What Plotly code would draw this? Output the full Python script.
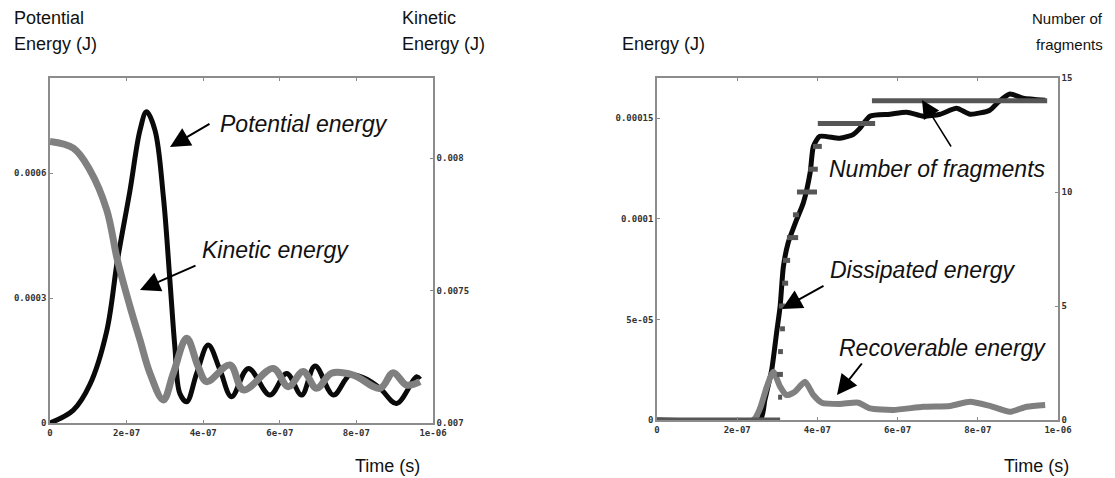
import plotly.graph_objects as go

# The page body has an 8px margin, so the figure is made 8px smaller in both
# directions and every pixel position below is given in page coordinates.
OFF = 8
W, H = 1115 - OFF, 478 - OFF

# ---------------- Left panel data (time in units of 1e-7 s) ----------------
pe_t = [0, 0.61, 1.04, 1.48, 1.76, 2.09, 2.35, 2.52, 2.74, 2.96, 3.13, 3.26, 3.39, 3.57,
        3.83, 4.13, 4.44, 4.74, 5.18, 5.74, 6.18, 6.57, 6.92, 7.40, 7.83, 8.22, 8.62,
        9.05, 9.57, 9.66]
pe_val = [0, 3.1e-5, 9.2e-5, 2.2e-4, 3.9e-4, 5.59e-4, 7.03e-4, 7.47e-4, 7.03e-4, 5.43e-4,
          3.43e-4, 1.83e-4, 7.1e-5, 5.1e-5, 1.19e-4, 1.87e-4, 1.27e-4, 6.3e-5, 1.31e-4,
          6.7e-5, 1.19e-4, 6.7e-5, 1.37e-4, 6.7e-5, 1.15e-4, 1.07e-4, 8.3e-5, 4.7e-5,
          1.11e-4, 1.05e-4]

ke_t = [0, 0.61, 1.04, 1.48, 1.76, 2.09, 2.35, 2.61, 2.96, 3.22, 3.57, 3.87, 4.09, 4.70,
        5.05, 5.83, 6.22, 6.61, 6.96, 7.35, 7.92, 8.62, 8.96, 9.31, 9.66]
ke_val = [0.008062, 0.008037, 0.007955, 0.007805, 0.007615, 0.007439, 0.007313, 0.007188,
          0.007087, 0.007188, 0.007320, 0.007212, 0.007156, 0.007219, 0.007125, 0.007206,
          0.007137, 0.007194, 0.007131, 0.007188, 0.007181, 0.007131, 0.007190, 0.007143,
          0.007156]

# ---------------- Right panel data ----------------
dis_t = [0, 2.57, 2.69, 2.86, 2.98, 3.07, 3.15, 3.27, 3.48, 3.65, 3.82, 3.90, 4.06, 4.56,
         4.90, 5.06, 5.31, 5.81, 6.23, 6.64, 7.06, 7.47, 7.81, 8.30, 8.51, 8.80, 9.13, 9.68]
dis_val = [0, 0, 1.0e-5, 2.49e-5, 4.3e-5, 5.64e-5, 7.6e-5, 8.8e-5, 9.95e-5, 1.08e-4,
           1.23e-4, 1.36e-4, 1.41e-4, 1.40e-4, 1.42e-4, 1.45e-4, 1.51e-4, 1.52e-4, 1.53e-4,
           1.51e-4, 1.52e-4, 1.55e-4, 1.52e-4, 1.54e-4, 1.58e-4, 1.62e-4, 1.60e-4, 1.59e-4]

rec_t = [0, 2.40, 2.57, 2.74, 2.90, 3.07, 3.23, 3.44, 3.69, 3.90, 4.11, 4.56, 5.02, 5.31,
         5.89, 6.64, 7.31, 7.81, 8.30, 8.80, 9.22, 9.68]
rec_val = [0, 0, 5.8e-6, 1.66e-5, 2.4e-5, 1.66e-5, 1.24e-5, 1.41e-5, 1.9e-5, 1.24e-5, 8.6e-6,
           8.0e-6, 8.6e-6, 5.8e-6, 5.0e-6, 6.6e-6, 7.0e-6, 9.1e-6, 7.0e-6, 4.1e-6, 6.6e-6,
           7.5e-6]

frag_count = [0, 1, 2, 3, 4, 5, 6, 7, 8, 9, 10, 11, 12, 13, 14]
frag_t0 = [0, 3.02, 2.99, 3.02, 3.07, 3.04, 3.12, 3.14, 3.24, 3.39, 3.49, 3.77, 3.89, 4.01, 5.36]
frag_t1 = [3.07, 3.12, 3.14, 3.14, 3.19, 3.19, 3.27, 3.32, 3.52, 3.54, 3.99, 4.01, 4.11, 5.44, 9.73]

# tick labels
x_tickvals = [0, 2e-7, 4e-7, 6e-7, 8e-7, 1e-6]
x_ticktext = ["0", "2e-07", "4e-07", "6e-07", "8e-07", "1e-06"]
pe_tickvals = [0, 0.0003, 0.0006]
pe_ticktext = ["0", "0.0003", "0.0006"]
ke_tickvals = [0.007, 0.0075, 0.008]
ke_ticktext = ["0.007", "0.0075", "0.008"]
en_tickvals = [0, 5e-5, 1e-4, 1.5e-4]
en_ticktext = ["0", "5e-05", "0.0001", "0.00015"]
fr_tickvals = [0, 5, 10, 15]
fr_ticktext = ["0", "5", "10", "15"]

S = 1e-7
BLACK = "#0a0a0a"
GRAY = "#808080"
FRAG = "#565656"

fig = go.Figure()

fig.add_trace(go.Scatter(x=[t * S for t in pe_t], y=pe_val, mode="lines",
                         line=dict(color=BLACK, width=5, shape="spline", smoothing=1.0),
                         xaxis="x", yaxis="y", showlegend=False))
fig.add_trace(go.Scatter(x=[t * S for t in ke_t], y=ke_val, mode="lines",
                         line=dict(color=GRAY, width=7, shape="spline", smoothing=1.0),
                         xaxis="x", yaxis="y2", showlegend=False))

fig.add_trace(go.Scatter(x=[t * S for t in dis_t], y=dis_val, mode="lines",
                         line=dict(color=BLACK, width=5, shape="spline", smoothing=0.6),
                         xaxis="x2", yaxis="y3", showlegend=False))
fig.add_trace(go.Scatter(x=[t * S for t in rec_t], y=rec_val, mode="lines",
                         line=dict(color=GRAY, width=6, shape="spline", smoothing=0.6),
                         xaxis="x2", yaxis="y3", showlegend=False))

fx, fy = [], []
for c, a, b in zip(frag_count, frag_t0, frag_t1):
    fx += [a * S, b * S, None]
    fy += [c, c, None]
fig.add_trace(go.Scatter(x=fx, y=fy, mode="lines",
                         line=dict(color=FRAG, width=5),
                         xaxis="x2", yaxis="y4", showlegend=False))

tickfont = dict(family="DejaVu Sans Mono", size=9, color="#333333", weight="bold")
axcommon = dict(showline=True, linecolor="#8c8c8c", linewidth=1.5, ticks="inside",
                ticklen=3, tickcolor="#8c8c8c", showgrid=False, zeroline=False,
                tickfont=tickfont, automargin=False)


def px_x(p):
    return (p - OFF) / W


def px_y(p):
    return 1 - (p - OFF) / H


fig.update_layout(
    width=W, height=H,
    margin=dict(l=0, r=0, t=0, b=0, pad=0, autoexpand=False),
    paper_bgcolor="white", plot_bgcolor="white",
    showlegend=False,
    xaxis=dict(domain=[px_x(50), px_x(433)], range=[0, 1e-6], anchor="y",
               tickvals=x_tickvals, ticktext=x_ticktext, mirror="ticks", **axcommon),
    yaxis=dict(domain=[px_y(423), px_y(78)], range=[0, 0.000828], anchor="x",
               tickvals=pe_tickvals, ticktext=pe_ticktext, **axcommon),
    yaxis2=dict(overlaying="y", side="right", anchor="x", range=[0.007, 0.008302],
                tickvals=ke_tickvals, ticktext=ke_ticktext, **axcommon),
    xaxis2=dict(domain=[px_x(657), px_x(1058)], range=[0, 1e-6], anchor="y3",
                tickvals=x_tickvals, ticktext=x_ticktext, mirror="ticks", **axcommon),
    yaxis3=dict(domain=[px_y(420), px_y(78)], range=[0, 0.00017], anchor="x2",
                tickvals=en_tickvals, ticktext=en_ticktext, **axcommon),
    yaxis4=dict(overlaying="y3", side="right", anchor="x2", range=[0, 15],
                tickvals=fr_tickvals, ticktext=fr_ticktext, **axcommon),
)

lab_font = dict(family="Liberation Sans, Arial", size=18, color="#111111")
small_font = dict(family="Liberation Sans, Arial", size=15, color="#111111")
labels = [
    ("Potential", 12, 18, "left", lab_font),
    ("Energy (J)", 12, 44, "left", lab_font),
    ("Kinetic", 400, 18, "left", lab_font),
    ("Energy (J)", 400, 44, "left", lab_font),
    ("Time (s)", 387, 466, "center", lab_font),
    ("Energy (J)", 620, 44, "left", lab_font),
    ("Number of", 1105, 18, "right", small_font),
    ("fragments", 1105, 44, "right", small_font),
    ("Time (s)", 1036, 466, "center", lab_font),
]
for txt, x, y, anc, f in labels:
    fig.add_annotation(text=txt, xref="paper", yref="paper", x=px_x(x), y=px_y(y),
                       xanchor=anc, yanchor="middle", showarrow=False, font=f,
                       align=anc if anc != "center" else "center")

ital_font = dict(family="Liberation Sans, Arial", size=23, color="#111111")
curve_labels = [
    ("Potential energy", 218, 124),
    ("Kinetic energy", 200, 250),
    ("Number of fragments", 827, 169),
    ("Dissipated energy", 828, 270),
    ("Recoverable energy", 837, 348),
]
for txt, x, y in curve_labels:
    fig.add_annotation(text="<i>" + txt + "</i>", xref="paper", yref="paper",
                       x=px_x(x), y=px_y(y), xanchor="left", yanchor="middle",
                       showarrow=False, font=ital_font)

arrows = [
    ((170, 147), (211, 123), 2.0),
    ((140, 290), (197, 265), 2.0),
    ((922, 100), (952, 148), 1.5),
    ((782, 309), (825, 285), 2.0),
    ((837, 395), (863, 362), 2.0),
]
for (hx, hy), (tx, ty), w in arrows:
    fig.add_annotation(text="", xref="paper", yref="paper", x=px_x(hx), y=px_y(hy),
                       ax=tx - hx, ay=ty - hy, showarrow=True, arrowhead=2,
                       arrowsize=2.0 if w >= 2 else 2.4, arrowwidth=w,
                       arrowcolor="#000000", standoff=0, startstandoff=0)

fig.write_html("out.html")
